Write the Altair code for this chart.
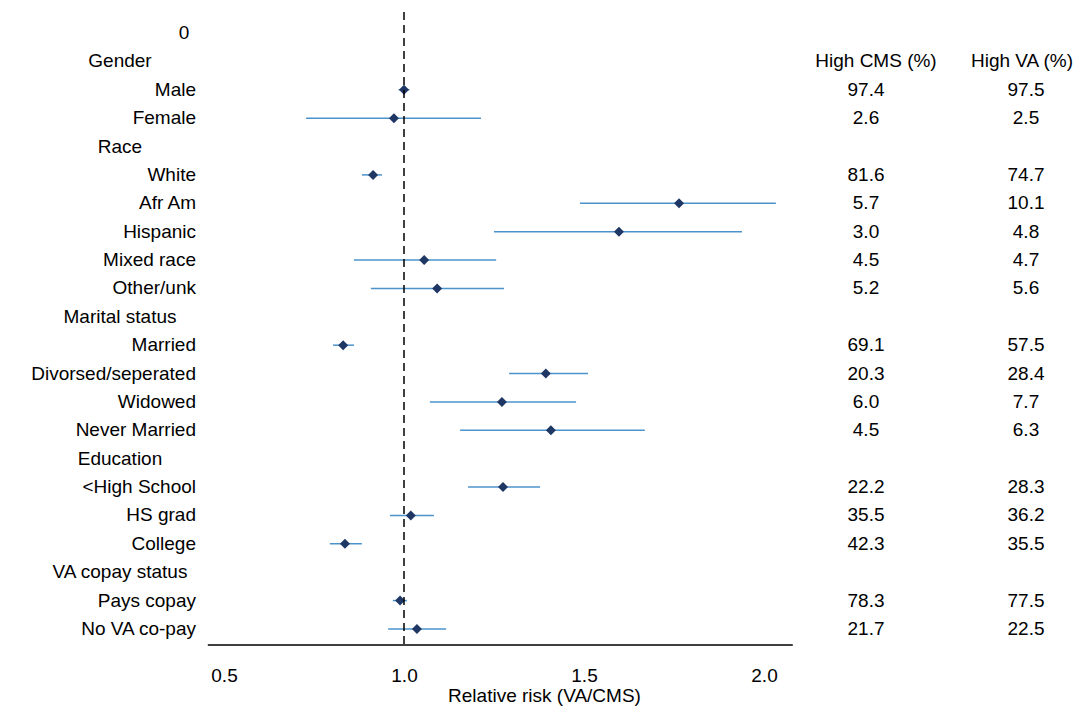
import altair as alt
import pandas as pd

FONT = "Liberation Sans"
FS = 19
LINE = "#4C93CC"
DIAMOND = "#1E3765"

# rows, top to bottom
labels = ["0", "Gender", "Male", "Female", "Race", "White", "Afr Am", "Hispanic",
          "Mixed race", "Other/unk", "Marital status", "Married", "Divorsed/seperated",
          "Widowed", "Never Married", "Education", "<High School", "HS grad", "College",
          "VA copay status", "Pays copay", "No VA co-pay"]
is_header = [False, True, False, False, True, False, False, False, False, False, True,
             False, False, False, False, True, False, False, False, True, False, False]
rr = [None, None, 1.00, 0.972, None, 0.914, 1.764, 1.597, 1.056, 1.092, None,
      0.831, 1.394, 1.272, 1.408, None, 1.275, 1.019, 0.836, None, 0.989, 1.036]
lo = [None, None, 0.985, 0.728, None, 0.883, 1.489, 1.250, 0.861, 0.908, None,
      0.803, 1.292, 1.072, 1.156, None, 1.178, 0.961, 0.794, None, 0.969, 0.956]
hi = [None, None, 1.015, 1.214, None, 0.939, 2.033, 1.939, 1.256, 1.278, None,
      0.861, 1.511, 1.478, 1.669, None, 1.378, 1.083, 0.883, None, 1.008, 1.117]
cms_head = "High CMS (%)"
va_head = "High VA (%)"
cms = ["", "", "97.4", "2.6", "", "81.6", "5.7", "3.0", "4.5", "5.2", "",
       "69.1", "20.3", "6.0", "4.5", "", "22.2", "35.5", "42.3", "", "78.3", "21.7"]
va = ["", "", "97.5", "2.5", "", "74.7", "10.1", "4.8", "4.7", "5.6", "",
      "57.5", "28.4", "7.7", "6.3", "", "28.3", "36.2", "35.5", "", "77.5", "22.5"]

df = pd.DataFrame({"row": range(len(labels)), "label": labels, "header": is_header,
                   "rr": rr, "lo": lo, "hi": hi, "cms": cms, "va": va})
pts = df.dropna(subset=["rr"])
heads_df = pd.DataFrame({"row": [1, 1], "text": [cms_head, va_head], "col": ["c", "v"]})

X = alt.Scale(domain=[-0.1, 2.8778], nice=False, zero=False)
Y = alt.Scale(domain=[-0.881, 21.565], reverse=True, nice=False, zero=False)

xaxis = alt.Axis(values=[0.5, 1.0, 1.5, 2.0], format=".1f", domain=False, ticks=False,
                 grid=False, labelPadding=21, labelFontSize=FS, titleFontSize=FS,
                 titleFontWeight="normal", titlePadding=1, labelFont=FONT, titleFont=FONT,
                 labelColor="black", titleColor="black")

ci = alt.Chart(pts).mark_rule(color=LINE, strokeWidth=1.5).encode(
    x=alt.X("lo:Q", scale=X, axis=xaxis, title="Relative risk (VA/CMS)"),
    x2="hi:Q",
    y=alt.Y("row:Q", scale=Y, axis=None),
)
dots = alt.Chart(pts).mark_point(shape="diamond", filled=True, size=100, opacity=1,
                                 color=DIAMOND).encode(x=alt.X("rr:Q", scale=X),
                                                       y=alt.Y("row:Q", scale=Y))

ref = alt.Chart(pd.DataFrame({"x": [1.0], "y1": [-0.74], "y2": [21.565]})).mark_rule(
    color="black", strokeDash=[8, 5], strokeWidth=1.5).encode(
    x=alt.X("x:Q", scale=X), y=alt.Y("y1:Q", scale=Y), y2="y2:Q")
axis_line = alt.Chart(pd.DataFrame({"a": [0.455], "b": [2.08], "y": [21.565]})).mark_rule(
    color="black", strokeWidth=1.5).encode(
    x=alt.X("a:Q", scale=X), x2="b:Q", y=alt.Y("y:Q", scale=Y))

txt = dict(font=FONT, fontSize=FS, color="black", baseline="middle")
cats = alt.Chart(df[(~df.header) & (df.label != "0")]).mark_text(align="right", **txt).encode(
    x=alt.value(188), y=alt.Y("row:Q", scale=Y), text="label:N")
zero = alt.Chart(df[df.label == "0"]).mark_text(align="center", **txt).encode(
    x=alt.value(176), y=alt.Y("row:Q", scale=Y), text="label:N")
heads = alt.Chart(df[df.header]).mark_text(align="center", **txt).encode(
    x=alt.value(112), y=alt.Y("row:Q", scale=Y), text="label:N")
col1 = alt.Chart(df).mark_text(align="center", **txt).encode(
    x=alt.value(858), y=alt.Y("row:Q", scale=Y), text="cms:N")
col2 = alt.Chart(df).mark_text(align="center", **txt).encode(
    x=alt.value(1018), y=alt.Y("row:Q", scale=Y), text="va:N")
h1 = alt.Chart(heads_df[heads_df.col == "c"]).mark_text(align="center", **txt).encode(
    x=alt.value(868), y=alt.Y("row:Q", scale=Y), text="text:N")
h2 = alt.Chart(heads_df[heads_df.col == "v"]).mark_text(align="center", **txt).encode(
    x=alt.value(1014), y=alt.Y("row:Q", scale=Y), text="text:N")

chart = (
    alt.layer(ci, dots, ref, axis_line, cats, zero, heads, col1, col2, h1, h2)
    .properties(width=1072, height=637,
                padding={"left": 0, "top": 0, "right": 0, "bottom": 64},
                autosize=alt.AutoSizeParams(type="none"))
    .configure_view(strokeWidth=0)
)
chart.save("out.html", embed_options={"renderer": "svg", "actions": False})
